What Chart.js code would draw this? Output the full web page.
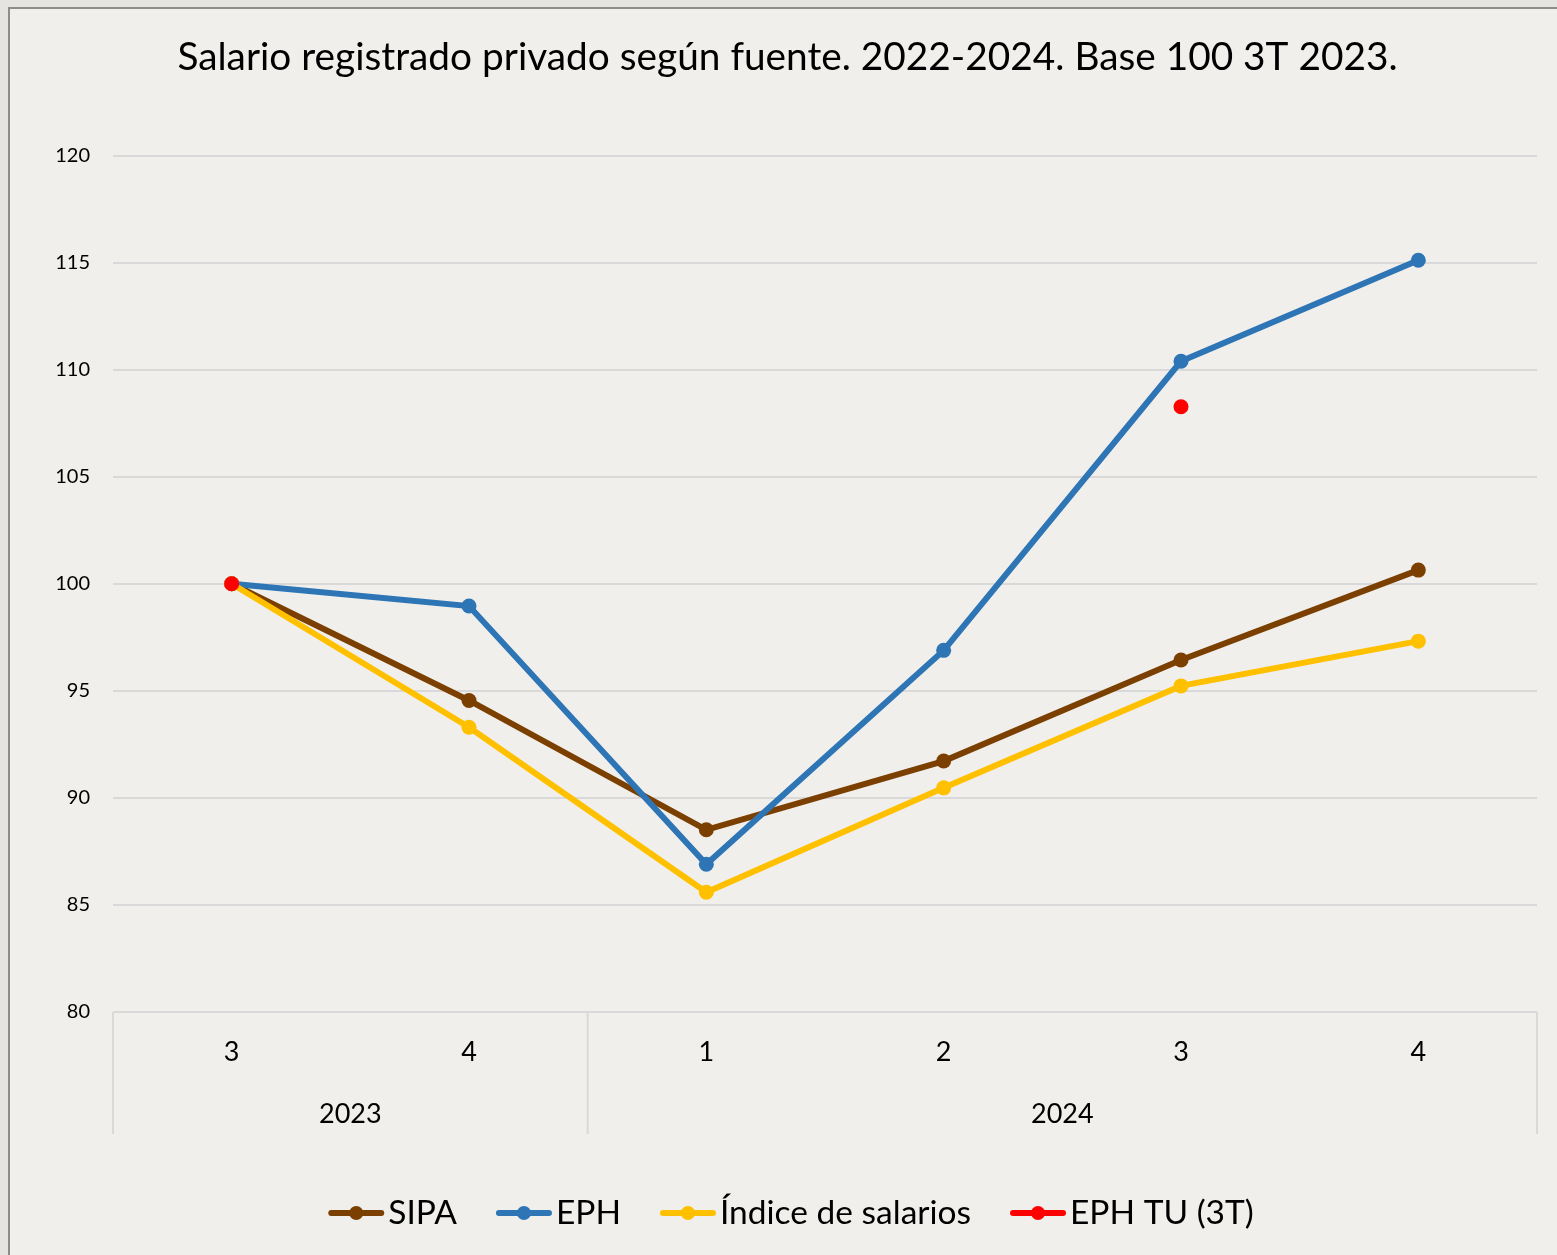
<!DOCTYPE html>
<html>
<head>
<meta charset="utf-8">
<script src="https://cdn.jsdelivr.net/npm/chart.js@4/dist/chart.umd.min.js"></script>
<style>
  html, body { margin: 0; padding: 0; background: #E6E4E0; overflow: hidden; width: 1557px; height: 1255px; }
  #frame { position: absolute; left: 8px; top: 7px; width: 1558px; height: 1262px; border-left: 2px solid #8C8C8C; border-top: 2px solid #8C8C8C; background: #F0EFEB; }
  canvas { display: block; }
</style>
</head>
<body>
<div id="frame"><canvas id="c" width="1558" height="1262"></canvas></div>
<script>
// ---- data ----
const quarters = ['3', '4', '1', '2', '3', '4'];
const years = ['2023', '2024'];
const yearCounts = [2, 4];
const sipa   = [100, 94.55, 88.51, 91.72, 96.44, 100.64];
const eph    = [100, 98.96, 86.90, 96.89, 110.39, 115.11];
const indice = [100, 93.30, 85.59, 90.47, 95.23, 97.32];
const ephTU  = [100, null, null, null, 108.27, null];
const seriesNames = ['SIPA', 'EPH', 'Índice de salarios', 'EPH TU (3T)'];
const seriesColors = ['#7B3F00', '#2E75B6', '#FFC000', '#FF0000'];
const titleText = 'Salario registrado privado según fuente. 2022-2024. Base 100 3T 2023.';
const yMin = 80, yMax = 120, yStep = 5;

const FONT = 'Lato, "Open Sans", sans-serif';
const GRID = '#D9D9D9';

const groupAxisPlugin = {
  id: 'groupAxis',
  afterDraw(chart) {
    const ctx = chart.ctx;
    const x = chart.scales.x;
    const area = chart.chartArea;
    const top = area.bottom;
    const bottom = area.bottom + 122;
    const bounds = [area.left];
    let idx = 0;
    yearCounts.forEach((n, i) => {
      idx += n;
      if (i < yearCounts.length - 1) {
        bounds.push((x.getPixelForValue(idx - 1) + x.getPixelForValue(idx)) / 2);
      }
    });
    bounds.push(area.right);
    ctx.save();
    ctx.strokeStyle = GRID;
    ctx.lineWidth = 2;
    bounds.forEach(b => {
      ctx.beginPath();
      ctx.moveTo(b, top);
      ctx.lineTo(b, bottom);
      ctx.stroke();
    });
    ctx.fillStyle = '#000';
    ctx.font = '27px ' + FONT;
    ctx.textAlign = 'center';
    ctx.textBaseline = 'middle';
    years.forEach((y, i) => {
      ctx.fillText(y, (bounds[i] + bounds[i + 1]) / 2, area.bottom + 102);
    });
    ctx.restore();
  }
};

const legendPlugin = {
  id: 'customLegend',
  afterDraw(chart) {
    const ctx = chart.ctx;
    ctx.save();
    ctx.font = '33.5px ' + FONT;
    const markerW = 56, gapText = 4, gapItem = 39;
    const widths = seriesNames.map(n => ctx.measureText(n).width);
    const total = widths.reduce((a, w) => a + markerW + gapText + w, 0) + gapItem * (seriesNames.length - 1);
    let cx = chart.width / 2 + 2 - total / 2;
    const cy = chart.chartArea.bottom + 201;
    seriesNames.forEach((n, i) => {
      ctx.strokeStyle = seriesColors[i];
      ctx.fillStyle = seriesColors[i];
      ctx.lineWidth = 6;
      ctx.lineCap = 'round';
      ctx.beginPath();
      ctx.moveTo(cx + 3, cy);
      ctx.lineTo(cx + markerW - 3, cy);
      ctx.stroke();
      ctx.beginPath();
      ctx.arc(cx + markerW / 2, cy, 7, 0, Math.PI * 2);
      ctx.fill();
      ctx.fillStyle = '#000';
      ctx.textAlign = 'left';
      ctx.textBaseline = 'middle';
      ctx.fillText(n, cx + markerW + gapText, cy);
      cx += markerW + gapText + widths[i] + gapItem;
    });
    ctx.restore();
  }
};

function ds(label, data, color, order, showLine) {
  return {
    label, data, order,
    borderColor: color, backgroundColor: color,
    borderWidth: 6, pointRadius: 7.5, pointHoverRadius: 7.5,
    pointBorderWidth: 0, showLine: showLine, tension: 0,
    spanGaps: false
  };
}

new Chart(document.getElementById('c'), {
  type: 'line',
  data: {
    labels: quarters,
    datasets: [
      ds(seriesNames[0], sipa, seriesColors[0], 4, true),
      ds(seriesNames[1], eph, seriesColors[1], 3, true),
      ds(seriesNames[2], indice, seriesColors[2], 2, true),
      ds(seriesNames[3], ephTU, seriesColors[3], 1, false)
    ]
  },
  options: {
    responsive: false,
    devicePixelRatio: 1,
    animation: false,
    layout: { padding: { left: 28, right: 31, top: 0, bottom: 0 } },
    plugins: {
      legend: { display: false },
      tooltip: { enabled: false },
      title: {
        display: true,
        text: titleText,
        color: '#000',
        font: { family: FONT, size: 38.8, weight: 'normal' },
        padding: { top: 25, bottom: 75 }
      }
    },
    scales: {
      x: {
        offset: true,
        grid: { display: false, drawTicks: false },
        border: { display: false },
        ticks: { color: '#000', font: { family: FONT, size: 27 }, padding: 24, maxRotation: 0 },
        afterFit(s) { s.height = 259; }
      },
      y: {
        min: yMin, max: yMax,
        ticks: { stepSize: yStep, color: '#000', font: { family: FONT, size: 20 }, padding: 23 },
        grid: { color: GRID, lineWidth: 2, drawTicks: false },
        border: { display: false },
        afterFit(s) { s.width = 75; }
      }
    }
  },
  plugins: [groupAxisPlugin, legendPlugin]
});
</script>
</body>
</html>
